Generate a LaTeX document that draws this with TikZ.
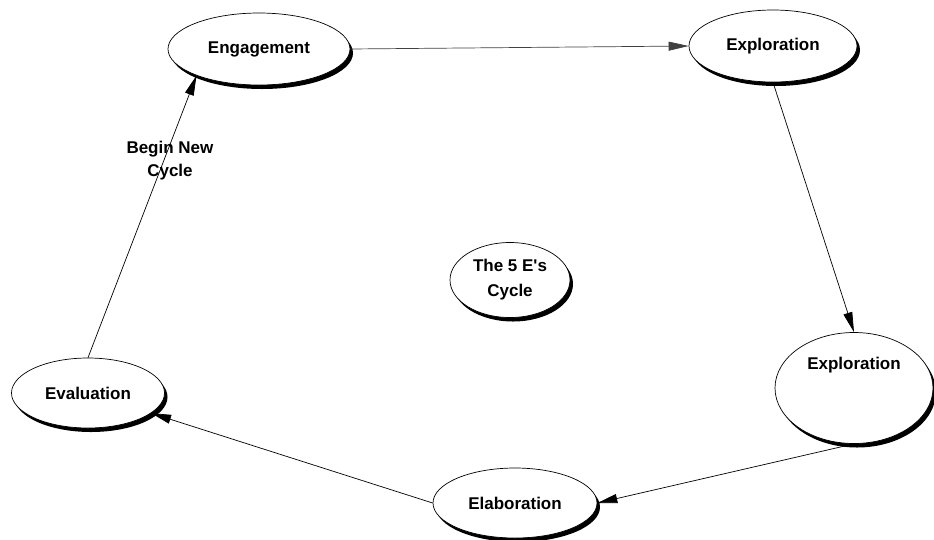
\documentclass[tikz,border=0pt]{standalone}
\usepackage{fontspec}
\setmainfont{Liberation Sans}
\usetikzlibrary{shapes.geometric,shadows,arrows.meta}
\tikzset{
  stage/.style={
    shape = ellipse,
    draw,
    line width = 0.7pt,
    fill = white,
    inner sep = 0pt,
    drop shadow = {shadow xshift=3pt, shadow yshift=-4pt, fill=black, opacity=1},
    font = \bfseries\fontsize{17}{25}\selectfont,
    align = center
  },
  flow/.style={
    -{Triangle[length=20pt,width=9pt]},
    line width = 0.7pt
  },
  cycletext/.style={
    font = \bfseries\fontsize{17}{23}\selectfont,
    align = center,
    inner sep = 0pt
  }
}

\begin{document}
\begin{tikzpicture}[x=1pt,y=-1pt]
  \useasboundingbox (0,0) rectangle (934,539);
  \node[stage,minimum width=182pt,minimum height=72pt] (engage) at (259,49) {Engagement};
  \node[stage,minimum width=168pt,minimum height=72pt] (explore) at (773,46) {Exploration};
  \node[stage,minimum width=158pt,minimum height=111pt,text height=12pt,text depth=50pt] (explore2) at (854,388) {Exploration};
  \node[stage,minimum width=164pt,minimum height=70pt] (elab) at (515,503) {Elaboration};
  \node[stage,minimum width=153pt,minimum height=70pt] (eval) at (88,393) {Evaluation};
  \node[stage,minimum width=120pt,minimum height=75pt] (centre) at (510,280) {The 5 E\textquotesingle s\\Cycle};
  % the cycle
  \draw[flow,draw=black!75] (engage.east) -- (explore.west);
  \draw[flow] (explore.south) -- (explore2.north);
  \draw[flow] (explore2.south) -- (elab.east);
  \draw[flow] (elab.west) -- (eval);
  \draw[flow] (eval.north) -- node[cycletext,pos=0.7,xshift=6pt] {Begin New\\Cycle} (engage.203);
\end{tikzpicture}
\end{document}
